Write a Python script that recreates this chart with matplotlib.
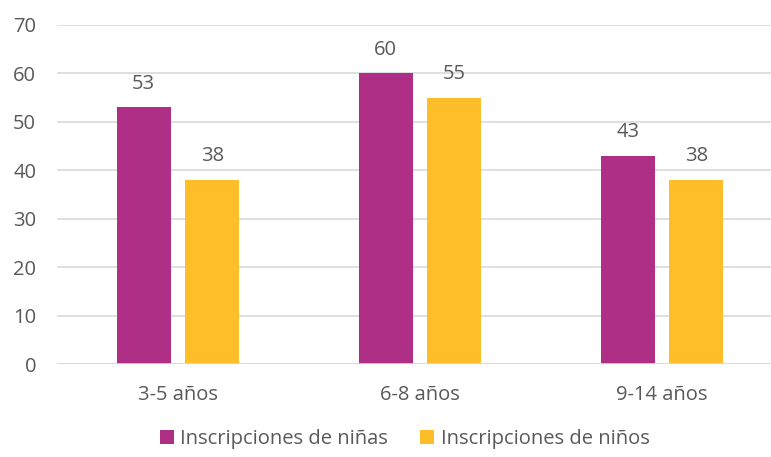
import matplotlib.pyplot as plt
import numpy as np

plt.rcParams['font.family'] = ['Open Sans', 'DejaVu Sans']

categorias = ["3-5 años", "6-8 años", "9-14 años"]
ninas = [53, 60, 43]
ninos = [38, 55, 38]
series = ["Inscripciones de niñas", "Inscripciones de niños"]

c_ninas = "#AF2F87"
c_ninos = "#FEBE2A"
txt = "#595959"
fs = 14.5

fig = plt.figure(figsize=(7.71, 4.57), dpi=100)
ax = fig.add_axes([57 / 771, 93 / 457, 714 / 771, 339 / 457])

x = np.arange(len(categorias))
w = 0.223
b1 = ax.bar(x - 0.142, ninas, w, color=c_ninas, label=series[0], zorder=3)
b2 = ax.bar(x + 0.142, ninos, w, color=c_ninos, label=series[1], zorder=3)

for bars in (b1, b2):
    for r in bars:
        ax.text(r.get_x() + r.get_width() / 2, r.get_height() + 2.8, f"{int(r.get_height())}",
                ha="center", va="bottom", fontsize=fs, color=txt)

ax.set_xlim(-0.5, 2.45)
ax.set_ylim(0, 70)
ax.set_yticks(range(0, 71, 10))
ax.set_xticks(x)
ax.set_xticklabels(categorias)
ax.grid(axis="y", color="#D9D9D9", linewidth=1.2, zorder=0)
for s in ax.spines.values():
    s.set_visible(False)
ax.axhline(0, color="#D9D9D9", linewidth=1.2, zorder=4)
ax.tick_params(axis="both", length=0, labelsize=fs, labelcolor=txt)
ax.tick_params(axis="y", pad=15)
ax.tick_params(axis="x", pad=15)

fig.legend(handles=[b1, b2], loc="lower center", bbox_to_anchor=(0.525, -0.022), ncol=2,
           frameon=False, fontsize=fs, labelcolor=txt, handlelength=0.7, handleheight=0.7,
           handletextpad=0.3, columnspacing=1.6)

fig.savefig("out.png", dpi=100)
